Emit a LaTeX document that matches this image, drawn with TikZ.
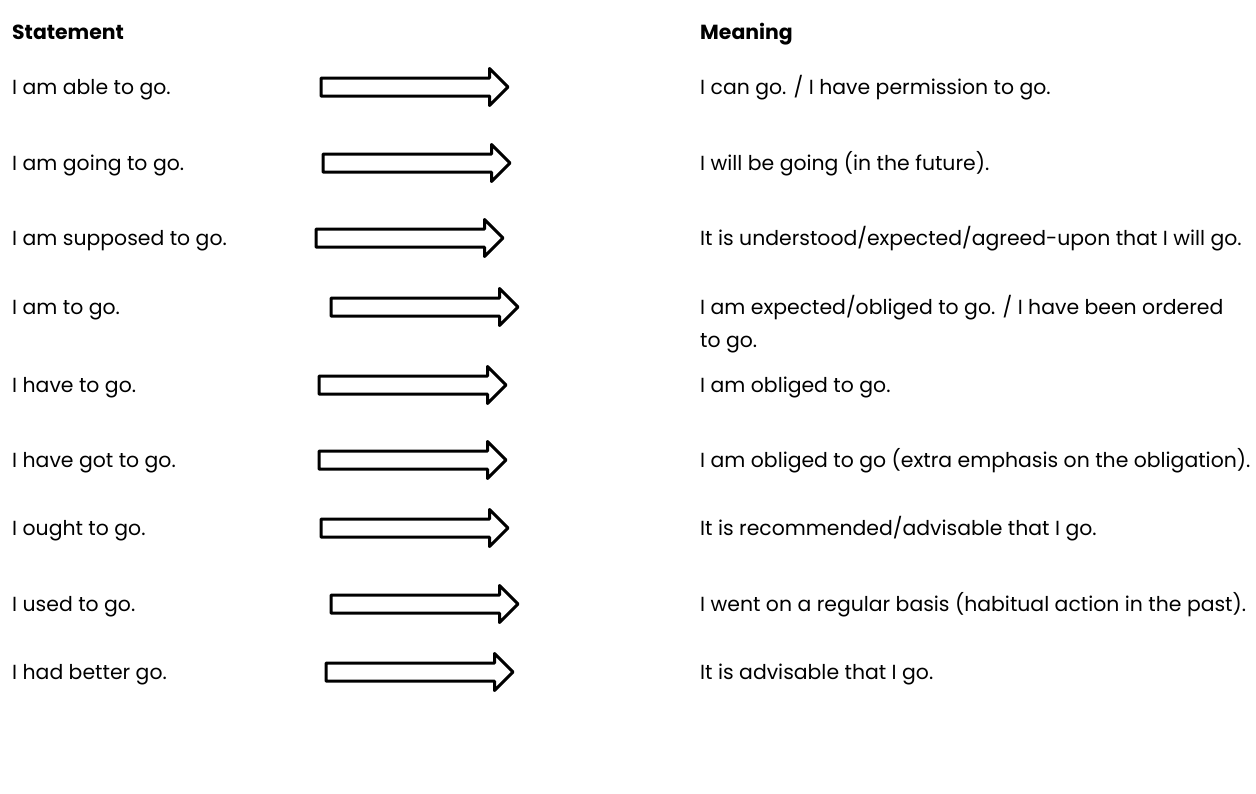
\documentclass[tikz,border=0pt]{standalone}
\usepackage{fontspec}
\setmainfont{Poppins}
\usetikzlibrary{shapes.arrows}
\begin{document}
\begin{tikzpicture}[x=1pt,y=-1pt,
 txt/.style={anchor=base west, inner sep=0pt, font=\fontsize{20.4}{24}\selectfont},
 hdr/.style={anchor=base west, inner sep=0pt, font=\fontsize{20.4}{24}\selectfont\bfseries},
 blk/.style={single arrow, draw=black, line width=3pt, fill=white,
   inner xsep=0pt, inner ysep=7.5pt, minimum height=187pt,
   single arrow head extend=9.5pt, anchor=west,
   line join=round, outer sep=0pt}]
\useasboundingbox (0,0) rectangle (1256,793);
\node[hdr] (hs) at (12,39) {Statement};
\node[hdr] (hm) at (700,39) {Meaning};
% left column
\node[txt] (s1) at (12,94) {I am able to go.};
\node[txt] (s2) at (12,170) {I am going to go.};
\node[txt] (s3) at (12,245) {I am supposed to go.};
\node[txt] (s4) at (12,314) {I am to go.};
\node[txt] (s5) at (12,392) {I have to go.};
\node[txt] (s6) at (12,467) {I have got to go.};
\node[txt] (s7) at (12,535) {I ought to go.};
\node[txt] (s8) at (12,611) {I used to go.};
\node[txt] (s9) at (12,679) {I had better go.};
% right column
\node[txt] (m1) at (700,94) {I can go. / I have permission to go.};
\node[txt] (m2) at (700,170) {I will be going (in the future).};
\node[txt] (m3) at (700,245) {It is understood/expected/agreed-upon that I will go.};
\node[txt] (m4) at (700,314) {I am expected/obliged to go. / I have been ordered};
\node[txt] (m4b) at (700,347) {to go.};
\node[txt] (m5) at (700,392) {I am obliged to go.};
\node[txt] (m6) at (700,467) {I am obliged to go (extra emphasis on the obligation).};
\node[txt] (m7) at (700,535) {It is recommended/advisable that I go.};
\node[txt] (m8) at (700,611) {I went on a regular basis (habitual action in the past).};
\node[txt] (m9) at (700,679) {It is advisable that I go.};
% arrows
\node[blk] (a1) at (321,87) {};
\node[blk] (a2) at (323,163) {};
\node[blk] (a3) at (316,238) {};
\node[blk] (a4) at (331,307) {};
\node[blk] (a5) at (319,385) {};
\node[blk] (a6) at (319,460) {};
\node[blk] (a7) at (321,528) {};
\node[blk] (a8) at (331,604) {};
\node[blk] (a9) at (326,672) {};
\end{tikzpicture}
\end{document}
